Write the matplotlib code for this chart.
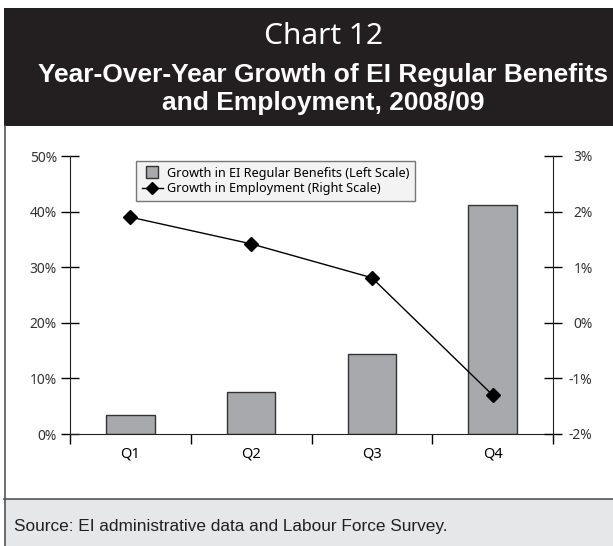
#!/usr/bin/env python3
"""Chart 12: EI regular benefits vs employment growth, 2008/09."""

import matplotlib
matplotlib.use("Agg")
import matplotlib.pyplot as plt
from matplotlib.patches import Rectangle
from matplotlib.lines import Line2D

quarters = ["Q1", "Q2", "Q3", "Q4"]
benefits_growth = [3.5, 7.6, 14.4, 41.1]      # % left scale
employment_growth = [1.9, 1.42, 0.81, -1.3]   # % right scale
left_ticks = [0, 10, 20, 30, 40, 50]
right_ticks = [-2, -1, 0, 1, 2, 3]

W, H = 613, 546
fig = plt.figure(figsize=(W / 100, H / 100), dpi=100)


def fx(px):
    return px / W


def fy(py):
    return 1 - py / H


TICK_FONT = "Noto Sans"

# header box, outer frame and source box
fig.patches.append(Rectangle((fx(4), fy(126)), fx(609), 118 / H, transform=fig.transFigure,
                             facecolor="#231f20", edgecolor="none", zorder=0))
fig.patches.append(Rectangle((fx(4), 0), fx(609), fy(499), transform=fig.transFigure,
                             facecolor="#e6e7e8", edgecolor="none", zorder=0))
fig.lines.append(Line2D([fx(4), 1], [fy(499), fy(499)], transform=fig.transFigure,
                        color="#555555", lw=1.2))
fig.lines.append(Line2D([fx(5), fx(5)], [0, fy(126)], transform=fig.transFigure,
                        color="#555555", lw=1.2))

cx = fx(323)
fig.text(cx, fy(36), "Chart 12", color="white", fontsize=21.5,
         family=TICK_FONT, ha="center", va="center")
fig.text(cx, fy(75), "Year-Over-Year Growth of EI Regular Benefits",
         color="white", fontsize=19, family="Liberation Sans", weight="bold",
         ha="center", va="center")
fig.text(cx, fy(103), "and Employment, 2008/09",
         color="white", fontsize=19, family="Liberation Sans", weight="bold",
         ha="center", va="center")
fig.text(fx(14), fy(527), "Source: EI administrative data and Labour Force Survey.",
         fontsize=12.4, family="Liberation Sans", color="#231f20", va="center")

ax = fig.add_axes([fx(70), fy(434), fx(553 - 70), (434 - 156) / H])
ax2 = ax.twinx()

x = list(range(len(quarters)))
ax.bar(x, benefits_growth, width=0.4, color="#a7a9ac", edgecolor="#333333",
       linewidth=1, zorder=2)
ax2.plot(x, employment_growth, color="black", lw=1, marker="D", markersize=7,
         zorder=3)

ax.set_xlim(-0.5, 3.5)
ax.set_ylim(0, 50)
ax2.set_ylim(-2, 3)

ax.set_xticks([-0.5, 0.5, 1.5, 2.5, 3.5])
ax.set_xticklabels([])
ax.set_xticks(x, minor=True)
ax.set_xticklabels(quarters, minor=True, fontsize=10.5, family=TICK_FONT)
ax.tick_params(axis="x", which="major", direction="out", length=7, width=1)
ax.tick_params(axis="x", which="minor", length=0, pad=9)

ax.set_yticks(left_ticks)
ax.set_yticklabels([f"{v}%" for v in left_ticks], fontsize=10, family=TICK_FONT,
                   color="#333333")
ax.tick_params(axis="y", direction="inout", length=13, width=1, pad=3)

ax2.set_yticks(right_ticks)
ax2.set_yticklabels([f"{v}%" for v in right_ticks], fontsize=10, family=TICK_FONT,
                    color="#333333", ha="right")
ax2.tick_params(axis="y", direction="inout", length=13, width=1, pad=22)

for a in (ax, ax2):
    a.spines["top"].set_visible(False)
ax.spines["right"].set_visible(False)
ax2.spines["left"].set_visible(False)
ax2.spines["bottom"].set_visible(False)
for s in ("left", "bottom"):
    ax.spines[s].set_color("#222222")
ax2.spines["right"].set_color("#222222")

handles = [
    Line2D([], [], linestyle="none", marker="s", markersize=8,
           markerfacecolor="#a7a9ac", markeredgecolor="#333333", markeredgewidth=1),
    Line2D([], [], color="black", lw=1, marker="D", markersize=6),
]
labels = ["Growth in EI Regular Benefits (Left Scale)",
          "Growth in Employment (Right Scale)"]
leg = ax2.legend(handles, labels, loc="upper left",
                 bbox_to_anchor=(fx(136), fy(161)), bbox_transform=fig.transFigure,
                 prop={"family": TICK_FONT, "size": 9.1}, frameon=True,
                 fancybox=False, shadow=False, borderpad=0.45, labelspacing=0.2,
                 handlelength=1.7, handletextpad=0.3, borderaxespad=0)
leg.get_frame().set_facecolor("#f0f0f0")
leg.get_frame().set_edgecolor("#555555")
leg.get_frame().set_linewidth(1)

fig.savefig("out.png", dpi=100)
